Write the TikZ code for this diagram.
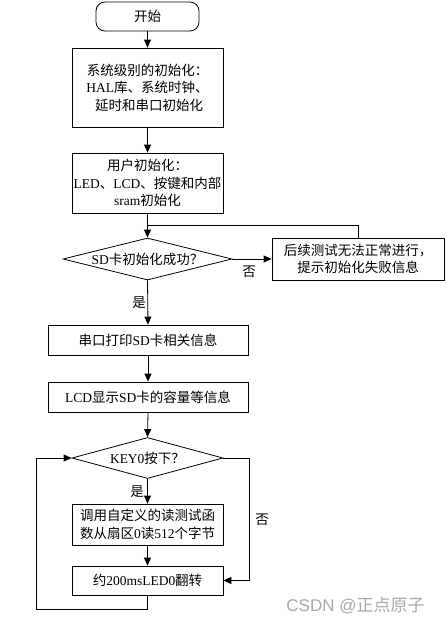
\documentclass[tikz,border=0pt]{standalone}
\usepackage{fontspec}
\setmainfont{Noto Sans CJK SC}
\newfontfamily\latinf{Liberation Serif}
\newfontfamily\wmsans{Liberation Sans}
\usetikzlibrary{shapes.geometric,arrows.meta}
\definecolor{wmgray}{HTML}{A8A8A8}
\begin{document}
\begin{tikzpicture}[x=1pt,y=-1pt,
  every node/.style={font=\fontsize{13.5}{17.5}\selectfont, inner sep=0pt},
  box/.style={draw, rectangle, align=center, line width=0.8pt},
  dia/.style={draw, diamond, line width=0.8pt, inner sep=0pt},
  conn/.style={line width=0.8pt, -{Triangle[length=8pt,width=7pt]}},
  plainline/.style={line width=0.8pt}]
\useasboundingbox (0,0) rectangle (445,624);

\node[box, rounded corners=9pt, minimum width=103pt, minimum height=29pt] (start) at (147.5,16.5) {开始};
\node[box, minimum width=151pt, minimum height=79pt] (b1) at (147.5,87.5)
  {系统级别的初始化：\\{\latinf HAL}库、系统时钟、\\\ 延时和串口初始化};
\node[box, minimum width=151pt, minimum height=60pt] (b2) at (147.5,183)
  {用户初始化：\\{\latinf LED}、{\latinf LCD}、按键和内部\\{\latinf sram}初始化};
\node[dia, minimum width=169pt, minimum height=42pt,
  label={center:{{\latinf SD}卡初始化成功？}}] (d1) at (147.5,259) {};
\node[box, minimum width=172pt, minimum height=42pt] (b3) at (358,259)
  {后续测试无法正常进行，\\提示初始化失败信息};
\node[box, minimum width=200pt, minimum height=30pt] (b4) at (148,340)
  {串口打印{\latinf SD}卡相关信息};
\node[box, minimum width=200pt, minimum height=30pt] (b5) at (148,397)
  {{\latinf LCD}显示{\latinf SD}卡的容量等信息};
\node[dia, minimum width=151pt, minimum height=41pt,
  label={center:{{\latinf KEY0}按下？}}] (d2) at (147.5,458) {};
\node[box, minimum width=151pt, minimum height=41pt] (b6) at (147.5,524.5)
  {调用自定义的读测试函\\数从扇区{\latinf 0}读{\latinf 512}个字节};
\node[box, minimum width=151pt, minimum height=29pt] (b7) at (147.5,580.5)
  {约{\latinf 200msLED0}翻转};

\coordinate (j1) at (147.5,225);
\coordinate (r1) at (249,458);
\coordinate (l1) at (147.5,609);
\coordinate (l2) at (36,609);

\draw[conn] (start) -- (b1);
\draw[conn] (b1) -- (b2);
\draw[conn] (b2) -- (d1);
\draw[plainline] (b3.north) |- (j1);
\draw[conn] (d1.east) -- (b3.west);
\draw[conn] (d1.south) -- (b4.north);
\draw[conn] (b4) -- (b5);
\draw[conn] (b5.south) -- (d2.north);
\draw[conn] (d2.south) -- (b6.north);
\draw[conn] (b6) -- (b7);
\draw[conn] (d2.east) -- (r1) |- (b7.east);
\draw[conn] (b7.south) -- (l1) -- (l2) |- (d2.west);

\node (no1) at (249,272) {否};
\node (yes1) at (139,303) {是};
\node (yes2) at (137,492) {是};
\node (no2) at (262,520) {否};

\node[text=wmgray, font=\fontsize{17}{17}\selectfont] (wm) at (355.5,606) {{\wmsans CSDN @}正点原子};
\end{tikzpicture}
\end{document}
